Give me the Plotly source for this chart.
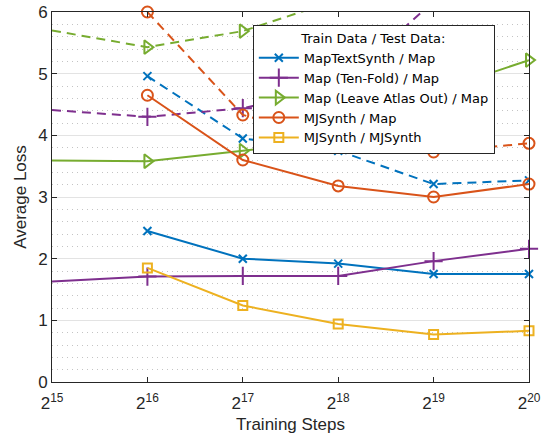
import plotly.graph_objects as go

steps = [2**15, 2**16, 2**17, 2**18, 2**19, 2**20]
tick_labels = ["2<sup>15</sup>", "2<sup>16</sup>", "2<sup>17</sup>", "2<sup>18</sup>", "2<sup>19</sup>", "2<sup>20</sup>"]

names = ["MapTextSynth / Map", "Map (Ten-Fold) / Map", "Map (Leave Atlas Out) / Map",
         "MJSynth / Map", "MJSynth / MJSynth"]

# solid lines
mts_solid = [None, 2.45, 2.00, 1.92, 1.75, 1.75]
tenfold_solid = [1.63, 1.71, 1.72, 1.72, 1.96, 2.16]
atlas_solid = [3.59, 3.58, 3.75, 3.92, 4.70, 5.22]
mj_map_solid = [None, 4.65, 3.60, 3.18, 3.00, 3.21]
mj_mj_solid = [None, 1.85, 1.24, 0.94, 0.77, 0.83]

# dashed lines
mts_dash = [None, 4.96, 3.95, 3.75, 3.21, 3.27]
tenfold_dash = [4.41, 4.30, 4.44, 4.79, 6.17, None]
atlas_dash = [5.70, 5.43, 5.69, 6.20, None, None]
mj_map_dash = [None, 6.00, 4.33, 3.92, 3.73, 3.87]

colors = ["#0072BD", "#7E2F8E", "#77AC30", "#D95319", "#EDB120"]
symbols = ["x-thin", "cross-thin", "triangle-right-open", "circle-open", "square-open"]
sizes = [8, 13, 12, 11, 9]

fig = go.Figure()

solid = [mts_solid, tenfold_solid, atlas_solid, mj_map_solid, mj_mj_solid]
dashed = [mts_dash, tenfold_dash, atlas_dash, mj_map_dash, None]

for i in range(5):
    if dashed[i] is not None:
        fig.add_trace(go.Scatter(
            x=steps, y=dashed[i], mode="lines+markers", showlegend=False,
            line=dict(color=colors[i], width=2, dash="9px,6px"),
            marker=dict(symbol=symbols[i], size=sizes[i], color=colors[i],
                        line=dict(color=colors[i], width=2)),
            cliponaxis=(i != 3), connectgaps=False))

for i in range(5):
    fig.add_trace(go.Scatter(
        x=steps, y=solid[i], mode="lines+markers", name=names[i],
        line=dict(color=colors[i], width=2),
        marker=dict(symbol=symbols[i], size=sizes[i], color=colors[i],
                    line=dict(color=colors[i], width=2)),
        cliponaxis=False))

axis_font = dict(family="Liberation Sans, Arial, sans-serif", size=17, color="#262626")
legend_font = dict(family="DejaVu Sans, sans-serif", size=13, color="#000000")

fig.update_layout(
    width=544, height=440,
    margin=dict(l=52, r=15, t=12, b=58),
    paper_bgcolor="white", plot_bgcolor="white",
    font=dict(family="Liberation Sans, Arial, sans-serif", color="#262626"),
    legend=dict(
        x=0.421, y=0.965, xanchor="left", yanchor="top",
        bgcolor="white", bordercolor="#262626", borderwidth=1,
        font=legend_font,
        title=dict(text="Train Data / Test Data:", side="top center", font=legend_font),
        tracegroupgap=0, itemwidth=40,
    ),
    xaxis=dict(
        type="log", range=[15 * 0.30103, 20 * 0.30103],
        tickvals=steps, ticktext=tick_labels,
        ticks="inside", ticklen=5, tickcolor="#262626",
        showline=True, linecolor="#262626", linewidth=1, mirror="ticks",
        showgrid=False, zeroline=False, automargin=False,
        ticklabelstandoff=6,
        tickfont=dict(size=17, color="#262626"),
        title=dict(text="Training Steps", font=axis_font, standoff=5),
    ),
    yaxis=dict(
        range=[0, 6], dtick=1, tick0=0,
        ticks="inside", ticklen=5, tickcolor="#262626",
        showline=True, linecolor="#262626", linewidth=1, mirror="ticks",
        showgrid=True, gridcolor="#e3e3e3", gridwidth=1, zeroline=False,
        automargin=False,
        minor=dict(dtick=0.2, showgrid=True, gridcolor="#c4c4c4", griddash="1px,4px", gridwidth=1),
        tickfont=dict(size=17, color="#262626"),
        title=dict(text="Average Loss", font=axis_font, standoff=7),
    ),
)

fig.write_html("out.html", config={"displayModeBar": False},
               post_script="document.body.style.margin='0';document.body.style.overflow='hidden';")
